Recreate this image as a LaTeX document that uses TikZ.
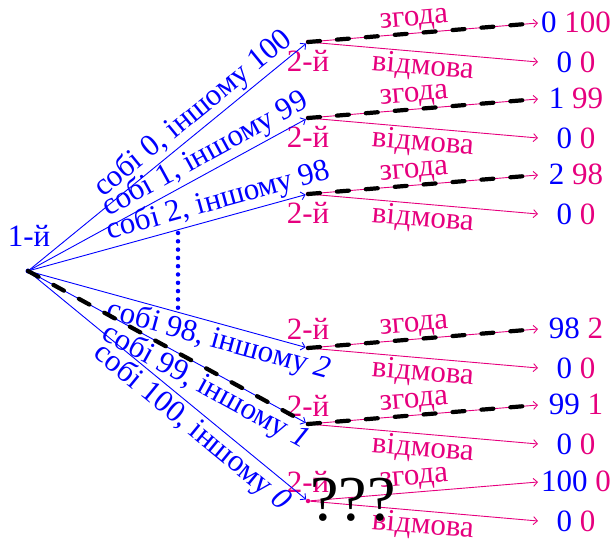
\documentclass[tikz,border=0pt]{standalone}
\usepackage{fontspec}
\setmainfont{Liberation Serif}
\newfontfamily\tmsfont{Liberation Serif}
\usetikzlibrary{arrows.meta}
\definecolor{pone}{RGB}{0,0,255}
\definecolor{ptwo}{RGB}{230,0,126}
\newcommand{\pay}[2]{{\color{pone}#1} {\color{ptwo}#2}}
\begin{document}
\begin{tikzpicture}[x=1pt,y=-1pt,
  font=\tmsfont\fontsize{31}{35}\selectfont,
  rootdot/.style={circle,fill=pone,inner sep=0pt,minimum size=5pt},
  movedot/.style={circle,fill=ptwo,inner sep=0pt,minimum size=4.5pt},
  blueedge/.style={draw=pone,line width=0.9pt,-{Straight Barb[length=4pt,width=8pt]}},
  pinkedge/.style={draw=ptwo,line width=0.9pt,-{Straight Barb[length=4pt,width=8pt]}},
  bluelab/.style={text=pone,sloped,inner sep=2pt},
  pinklab/.style={text=ptwo,sloped,inner sep=1.5pt},
  eqpath/.style={draw=black,line width=4.2pt,line cap=round,dash pattern=on 12pt off 17pt},
  outcome/.style={inner sep=0pt,anchor=center}
]
\useasboundingbox (0,0) rectangle (614,540);

% root
\node[rootdot] (r) at (28,271) {};
\node[text=pone] (rl) at (29,236) {1-й};

% second-player nodes
\node[movedot] (n1) at (308,42) {};
\node[movedot] (n2) at (308,118) {};
\node[movedot] (n3) at (308,194) {};
\node[movedot] (n4) at (308,348) {};
\node[movedot] (n5) at (308,424) {};
\node[movedot] (n6) at (308,501) {};

\node[text=ptwo] (l1) at (308,61) {2-й};
\node[text=ptwo] (l2) at (308,137) {2-й};
\node[text=ptwo] (l3) at (308,213) {2-й};
\node[text=ptwo] (l4) at (308,329) {2-й};
\node[text=ptwo] (l5) at (308,406) {2-й};
\node[text=ptwo] (l6) at (308,482) {2-й};

% first-player edges
\draw[blueedge] (r) -- node[bluelab,above,pos=0.63] {собі 0, іншому 100} (n1);
\draw[blueedge] (r) -- node[bluelab,above,pos=0.665] {собі 1, іншому 99} (n2);
\draw[blueedge] (r) -- node[bluelab,above,pos=0.70] {собі 2, іншому 98} (n3);
\draw[blueedge] (r) -- node[bluelab,below,pos=0.70] {собі 98, іншому \textit{2}} (n4);
\draw[blueedge] (r) -- node[bluelab,below,pos=0.665] {собі 99, іншому \textit{1}} (n5);
\draw[blueedge] (r) -- node[bluelab,below,pos=0.625] {собі 100, іншому \textit{0}} (n6);

% dotted ellipsis
\coordinate (dtop) at (178,233);
\coordinate (dbot) at (178,308);
\draw[pone,line width=4.5pt,line cap=round,dash pattern=on 0pt off 8.3pt] (dtop) -- (dbot);

% second-player edges and outcomes
\foreach \i/\y/\a in {1/42/{\pay{0}{100}},2/118/{\pay{1}{99}},3/194/{\pay{2}{98}},4/348/{\pay{98}{2}},5/424/{\pay{99}{1}},6/501/{\pay{100}{0}}}{
  \coordinate (a\i) at (538,\y-19);
  \coordinate (d\i) at (538,\y+20);
  \node[outcome] (oa\i) at (576,\y-20) {\a};
  \node[outcome] (od\i) at (576,\y+20) {\pay{0}{0}};
  \draw[pinkedge] (n\i) -- node[pinklab,above,pos=0.46] {згода} (a\i);
  \draw[pinkedge] (n\i) -- node[pinklab,below,pos=0.5] {відмова} (d\i);
}

% equilibrium path
\draw[eqpath] (r.center) -- (n5.center);
\foreach \i in {1,...,5}{
  \draw[eqpath,shorten >=9pt] (n\i.center) -- (a\i);
}

% question marks
\node[font=\tmsfont\fontsize{64}{70}\selectfont,inner sep=0pt] (qq) at (353,500) {???};
\end{tikzpicture}
\end{document}
